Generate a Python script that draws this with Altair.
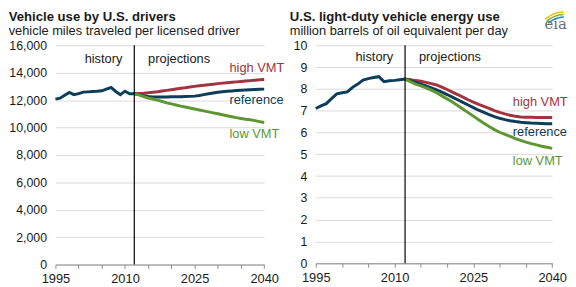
import altair as alt
import pandas as pd

FONT = "Liberation Sans"
NAVY = "#0e3d59"
RED = "#a3343f"
GREEN = "#5e9732"
TXT = "#1a1a1a"

# ---------------- data ----------------
years_hist = list(range(1995, 2013))
years_proj = list(range(2012, 2041))

vmt_hist = [12070, 12140, 12350, 12560, 12400, 12470, 12580, 12600, 12620,
            12640, 12680, 12800, 12920, 12630, 12390, 12650, 12460, 12460]
vmt_ref = [12460, 12400, 12320, 12260, 12230, 12220, 12220, 12230, 12240, 12250,
           12250, 12260, 12270, 12290, 12330, 12400, 12460, 12520, 12570, 12610,
           12640, 12670, 12700, 12720, 12740, 12760, 12780, 12790, 12800]
vmt_high = [12460, 12480, 12500, 12530, 12570, 12610, 12660, 12710, 12760, 12810,
            12860, 12900, 12950, 13000, 13040, 13080, 13120, 13160, 13200, 13240,
            13270, 13300, 13330, 13360, 13390, 13420, 13450, 13480, 13500]
vmt_low = [12460, 12380, 12250, 12150, 12080, 12000, 11900, 11800, 11720, 11640,
           11560, 11500, 11420, 11350, 11280, 11210, 11140, 11070, 11000, 10930,
           10860, 10790, 10720, 10660, 10600, 10560, 10500, 10430, 10360]

eng_hist = [7.10, 7.22, 7.32, 7.55, 7.77, 7.82, 7.86, 8.07, 8.22,
            8.40, 8.47, 8.52, 8.56, 8.33, 8.37, 8.39, 8.42, 8.45]
eng_ref = [8.45, 8.38, 8.30, 8.22, 8.14, 8.05, 7.96, 7.85, 7.74, 7.62,
           7.50, 7.38, 7.26, 7.14, 7.02, 6.92, 6.82, 6.73, 6.65, 6.59,
           6.54, 6.50, 6.47, 6.45, 6.43, 6.42, 6.41, 6.40, 6.40]
eng_high = [8.45, 8.42, 8.38, 8.35, 8.30, 8.24, 8.18, 8.08, 7.97, 7.85,
            7.74, 7.62, 7.50, 7.39, 7.29, 7.20, 7.10, 7.00, 6.92, 6.85,
            6.79, 6.74, 6.71, 6.70, 6.70, 6.69, 6.69, 6.69, 6.69]
eng_low = [8.45, 8.33, 8.22, 8.14, 8.05, 7.94, 7.82, 7.68, 7.54, 7.40,
           7.24, 7.08, 6.91, 6.75, 6.58, 6.42, 6.27, 6.13, 6.01, 5.91,
           5.82, 5.72, 5.64, 5.56, 5.49, 5.43, 5.37, 5.32, 5.27]

series_names = ["high VMT", "reference", "low VMT"]
series_colors = [RED, NAVY, GREEN]

divider_year = [2012]
x_ticks = list(range(1995, 2041, 5))

vmt_label_y = [14080, 11740, 9250]
eng_label_y = [7.20, 5.85, 4.50]
label_x = 2032.5
vmt_phase_y = 14700
eng_phase_y = 9.3


def series_df(years, values):
    return pd.DataFrame({"year": years, "value": values})


def panel(hist, ref, high, low, title, subtitle, ymax, ystep, fmt, width, height,
          title_x, lab_y, phase_y, logo=False):
    xs = alt.X("year:Q",
               scale=alt.Scale(domain=[1995, 2040], nice=False, zero=False),
               axis=alt.Axis(values=x_ticks, format="d", title=None, grid=False,
                             labelExpr="(datum.value - 1995) % 15 == 0 ? datum.label : ''",
                             labelFlush=False, labelOverlap=False, labelBound=False,
                             domain=True, domainColor="#8c8c8c", ticks=True,
                             tickColor="#8c8c8c", tickSize=4, labelPadding=4,
                             labelFontSize=13))
    ys = alt.Y("value:Q",
               scale=alt.Scale(domain=[0, ymax], nice=False, zero=True),
               axis=alt.Axis(values=[i * ystep for i in range(int(ymax / ystep) + 1)],
                             format=fmt, title=None, grid=True, gridColor="#d9d9d9",
                             gridWidth=1, domain=False, ticks=False, labelPadding=9,
                             labelOverlap=False, labelFontSize=12.5))

    ref_full = series_df(years_hist + years_proj[1:], hist + ref[1:])
    parts = [
        alt.Chart(series_df(years_proj, high)).mark_line(color=RED, strokeWidth=3)
        .encode(x=xs, y=ys),
        alt.Chart(ref_full).mark_line(color=NAVY, strokeWidth=3).encode(x=xs, y=ys),
        alt.Chart(series_df(years_proj, low)).mark_line(color=GREEN, strokeWidth=3)
        .encode(x=xs, y=ys),
    ]

    parts.append(alt.Chart(pd.DataFrame({"year": divider_year})).mark_rule(
        color="black", strokeWidth=1.2).encode(x=xs))

    hist_df = pd.DataFrame({"year": divider_year, "value": [phase_y], "txt": ["history"]})
    proj_df = pd.DataFrame({"year": divider_year, "value": [phase_y], "txt": ["projections"]})
    parts.append(alt.Chart(hist_df).mark_text(
        align="right", baseline="alphabetic", dx=-12, fontSize=13, font=FONT,
        color=TXT).encode(x=xs, y=ys, text="txt:N"))
    parts.append(alt.Chart(proj_df).mark_text(
        align="left", baseline="alphabetic", dx=14, fontSize=13, font=FONT,
        color=TXT).encode(x=xs, y=ys, text="txt:N"))

    labels = pd.DataFrame({"year": [label_x] * 3, "value": lab_y, "txt": series_names})
    parts.append(alt.Chart(labels).mark_text(align="left", baseline="alphabetic",
                                             fontSize=13, font=FONT).encode(
        x=xs, y=ys, text="txt:N",
        color=alt.Color("txt:N", scale=alt.Scale(domain=series_names,
                                                 range=series_colors), legend=None)))

    one = pd.DataFrame({"k": [0]})
    # titles as text marks placed relative to the plot origin
    parts.append(alt.Chart(one).mark_text(
        text=title, font=FONT, fontSize=13.3, fontWeight="bold", color=TXT,
        align="left", baseline="alphabetic").encode(
        x=alt.value(title_x), y=alt.value(-24.5)))
    parts.append(alt.Chart(one).mark_text(
        text=subtitle, font=FONT, fontSize=13, color=TXT,
        align="left", baseline="alphabetic").encode(
        x=alt.value(title_x), y=alt.value(-10.5)))

    if logo:
        cx, cy = 252, -4
        for r1, r2, col in [(24, 25.5, "#1a8fd0"), (26.5, 28, "#7ab648"),
                            (29, 30.5, "#f2c200")]:
            parts.append(alt.Chart(one).mark_arc(radius=r1, radius2=r2, theta=5.55,
                                                 theta2=6.25, color=col).encode(
                x=alt.value(cx), y=alt.value(cy)))
        parts.append(alt.Chart(one).mark_text(text="eia", font="DejaVu Serif",
                                              fontSize=15, color="#6d6e71",
                                              align="center", baseline="alphabetic")
                     .encode(x=alt.value(243), y=alt.value(-16.5)))

    return alt.layer(*parts).properties(width=width, height=height)


left = panel(vmt_hist, vmt_ref, vmt_high, vmt_low, "Vehicle use by U.S. drivers",
             "vehicle  miles traveled  per licensed driver", 16000, 2000, ",d",
             211.4, 222, -47.3, vmt_label_y, vmt_phase_y)
right = panel(eng_hist, eng_ref, eng_high, eng_low, "U.S. light-duty  vehicle energy use",
              "million barrels  of oil equivalent  per day", 10, 1, "d",
              239.4, 220.7, -26.3, eng_label_y, eng_phase_y, logo=True)

chart = alt.hconcat(left, right, spacing=51.6, bounds="flush").properties(
    padding=0
).configure_view(stroke=None).configure_axis(
    labelFont=FONT, labelColor=TXT
)

chart.save("out.html", embed_options={"renderer": "svg", "actions": False})
